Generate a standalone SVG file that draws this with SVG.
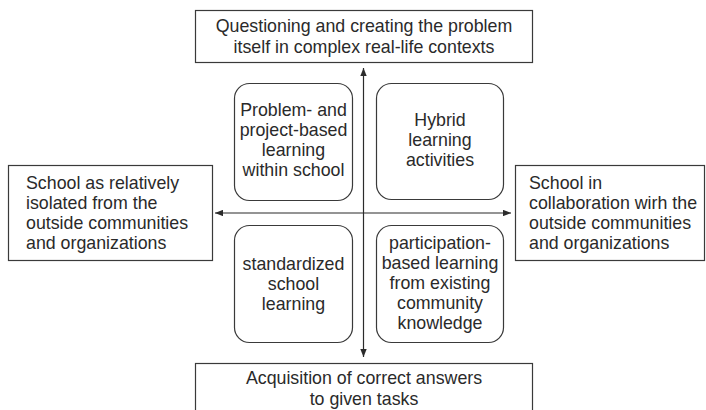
<svg xmlns="http://www.w3.org/2000/svg" width="706" height="410" viewBox="0 0 706 410">
  <style>
    .box { fill: #ffffff; stroke: #3a3a3a; stroke-width: 1.2; }
    .quad { fill: #ffffff; stroke: #3a3a3a; stroke-width: 1.2; }
    .axis { fill: none; stroke: #2b2b2b; stroke-width: 1.2; }
    text { font-family: "Liberation Sans", Arial, sans-serif; font-size: 17.8px; fill: #2a2a2a; }
    .c { text-anchor: middle; }
  </style>
  <defs>
    <marker id="tip" viewBox="0 0 10 8" refX="10" refY="4" markerWidth="8" markerHeight="6.4" markerUnits="userSpaceOnUse" orient="auto">
      <path d="M0,0 L10,4 L0,8 Z" fill="#2b2b2b"/>
    </marker>
  </defs>
  <rect width="706" height="410" fill="#ffffff"/>

  <!-- axes -->
  <g id="connectors">
    <line class="axis" x1="363.5" y1="213" x2="363.5" y2="68" marker-end="url(#tip)"/>
    <line class="axis" x1="363.5" y1="213" x2="363.5" y2="357" marker-end="url(#tip)"/>
    <line class="axis" x1="363.5" y1="213" x2="215" y2="213" marker-end="url(#tip)"/>
    <line class="axis" x1="363.5" y1="213" x2="511" y2="213" marker-end="url(#tip)"/>
  </g>

  <!-- axis end labels -->
  <g id="top-pole">
    <rect class="box" x="195.5" y="10.5" width="337" height="52"/>
    <text class="c" x="364" y="32">Questioning and creating the problem</text>
    <text class="c" x="364" y="53">itself in complex real-life contexts</text>
  </g>
  <g id="bottom-pole">
    <rect class="box" x="195.5" y="363.5" width="337" height="60"/>
    <text class="c" x="364" y="384">Acquisition of correct answers</text>
    <text class="c" x="364" y="405">to given tasks</text>
  </g>
  <g id="left-pole">
    <rect class="box" x="8.5" y="165.5" width="204" height="95"/>
    <text x="26" y="189">School as relatively</text>
    <text x="26" y="209">isolated from the</text>
    <text x="26" y="229">outside communities</text>
    <text x="26" y="249">and organizations</text>
  </g>
  <g id="right-pole">
    <rect class="box" x="515.5" y="165.5" width="189" height="95"/>
    <text x="529" y="189">School in</text>
    <text x="529" y="209">collaboration wirh the</text>
    <text x="529" y="229">outside communities</text>
    <text x="529" y="249">and organizations</text>
  </g>

  <!-- quadrants -->
  <g id="quad-top-left">
    <rect class="quad" x="234.5" y="83.5" width="118" height="117" rx="15"/>
    <text class="c" x="293.5" y="116">Problem- and</text>
    <text class="c" x="293.5" y="136">project-based</text>
    <text class="c" x="293.5" y="156">learning</text>
    <text class="c" x="293.5" y="176">within school</text>
  </g>
  <g id="quad-top-right">
    <rect class="quad" x="376.5" y="83.5" width="127" height="116" rx="15"/>
    <text class="c" x="440" y="126">Hybrid</text>
    <text class="c" x="440" y="146">learning</text>
    <text class="c" x="440" y="166">activities</text>
  </g>
  <g id="quad-bottom-left">
    <rect class="quad" x="234.5" y="225.5" width="118" height="117" rx="15"/>
    <text class="c" x="293.5" y="270">standardized</text>
    <text class="c" x="293.5" y="290">school</text>
    <text class="c" x="293.5" y="310">learning</text>
  </g>
  <g id="quad-bottom-right">
    <rect class="quad" x="376.5" y="225.5" width="127" height="117" rx="15"/>
    <text class="c" x="440" y="249">participation-</text>
    <text class="c" x="440" y="269">based learning</text>
    <text class="c" x="440" y="289">from existing</text>
    <text class="c" x="440" y="309">community</text>
    <text class="c" x="440" y="329">knowledge</text>
  </g>
</svg>
